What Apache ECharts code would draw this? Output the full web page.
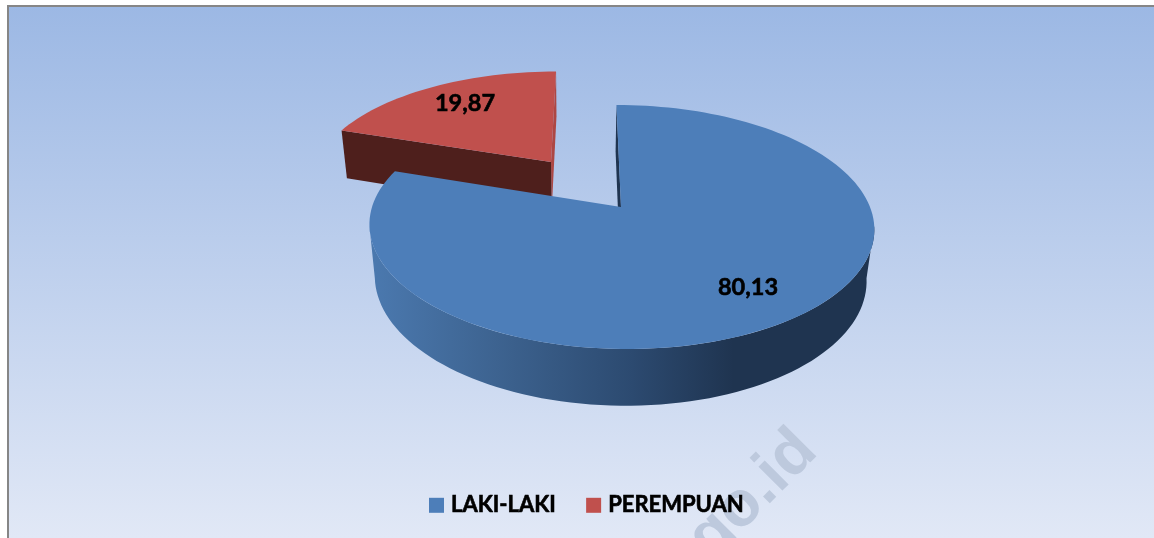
<!DOCTYPE html>
<html>
<head>
<meta charset="utf-8">
<title>Pie</title>
<script src="https://cdn.jsdelivr.net/npm/echarts@6/dist/echarts.min.js"></script>
<style>
html,body{margin:0;padding:0;background:#fff}
#chart{width:1154px;height:538px}
</style>
</head>
<body>
<div id="chart"></div>
<script>
var categories = ['LAKI-LAKI', 'PEREMPUAN'];
var values = [80.13, 19.87];
var colors = ['#4d7eb9', '#c0504d'];
var wallColors = ['#1f3450', '#4e1f1c'];
var FONT = 'Lato, "Open Sans", sans-serif';

// 3d pie seen from above, u/v on the unit disc, z = 1 is the bottom face
function proj(u, v, z) {
    var w = 1 + 0.1639 * v + 0.026 * z;
    return [
        (621 + 96.5 * v + 249 * u + 15 * z) / w,
        (207 - 84.8 * v + 58 * z) / w
    ];
}

function arc(a0, a1, ox, oy, z) {
    var pts = [];
    var n = Math.ceil((a1 - a0) / 2);
    for (var i = 0; i <= n; i++) {
        var a = (a0 + (a1 - a0) * i / n) * Math.PI / 180;
        pts.push(proj(ox + Math.sin(a), oy + Math.cos(a), z));
    }
    return pts;
}

function poly(points, fill) {
    return {type: 'polygon', shape: {points: points}, style: {fill: fill}, silent: true};
}

function sliceAngles(index) {
    var total = values[0] + values[1];
    var before = 0;
    for (var i = 0; i < index; i++) before += values[i];
    return [before / total * 360, (before + values[index]) / total * 360];
}

function radial(a, ox, oy) {
    var r = a * Math.PI / 180;
    var eu = ox + Math.sin(r), ev = oy + Math.cos(r);
    return [proj(ox, oy, 0), proj(eu, ev, 0), proj(eu, ev, 1), proj(ox, oy, 1)];
}

function valueLabel(value, x, y) {
    return {type: 'text', style: {text: String(value).replace('.', ','), x: x, y: y,
        align: 'center', verticalAlign: 'middle', fill: '#000', stroke: '#000', lineWidth: 0.6,
        font: 'bold 23.5px ' + FONT}};
}

function renderBlue(params, api) {
    var ang = sliceAngles(0);
    // only the front of the rim, between the two side extremes
    var wall = arc(99, 261, 0, 0, 0).concat(arc(99, 261, 0, 0, 1).reverse());
    var top = [proj(0, 0, 0)].concat(arc(ang[0], ang[1], 0, 0, 0));
    var grad = new echarts.graphic.LinearGradient(370, 0, 875, 0, [
        {offset: 0, color: '#4b79af'},
        {offset: 0.25, color: '#3d6390'},
        {offset: 0.52, color: '#2c4a70'},
        {offset: 0.72, color: '#1f3450'},
        {offset: 1, color: '#1f3450'}
    ], true);
    return {type: 'group', children: [
        poly(radial(ang[0], 0, 0), wallColors[0]),
        poly(wall, grad),
        poly(top, colors[0]),
        valueLabel(api.value(0), 748, 287)
    ]};
}

function renderRed(params, api) {
    var ang = sliceAngles(1);
    var mid = (ang[0] + ang[1]) / 2 * Math.PI / 180;
    var ox = 0.498 * Math.sin(mid), oy = 0.498 * Math.cos(mid);
    var top = [proj(ox, oy, 0)].concat(arc(ang[0], ang[1], ox, oy, 0));
    return {type: 'group', children: [
        poly(radial(ang[1], ox, oy), '#ad4744'),
        poly(radial(ang[0], ox, oy), wallColors[1]),
        poly(top, colors[1]),
        valueLabel(api.value(0), 465, 103)
    ]};
}

var chart = echarts.init(document.getElementById('chart'));
chart.setOption({
    animation: false,
    legend: {
        data: categories,
        left: 429,
        top: 494,
        padding: 0,
        icon: 'rect',
        itemWidth: 15,
        itemHeight: 15,
        itemGap: 30,
        selectedMode: false,
        textStyle: {color: '#000', fontWeight: 'bold', fontSize: 22, fontFamily: FONT,
            textBorderColor: '#000', textBorderWidth: 0.6, padding: [0, 0, 0, 2]}
    },
    graphic: [
        {type: 'rect', z: -10, shape: {x: 8, y: 6, width: 1146, height: 532},
            style: {fill: new echarts.graphic.LinearGradient(0, 0, 0, 1, [
                {offset: 0, color: '#9cb8e4'},
                {offset: 1, color: '#e1e8f6'}
            ])}},
        {type: 'rect', z: -9, shape: {x: 7, y: 5, width: 1147, height: 2}, style: {fill: '#868686'}},
        {type: 'rect', z: -9, shape: {x: 7, y: 5, width: 2, height: 533}, style: {fill: '#868686'}},
        {type: 'text', z: -5, x: 807, y: 441, rotation: Math.PI / 4, silent: true,
            style: {text: 'go.id', align: 'right', verticalAlign: 'middle', fill: '#bdc9dd',
                font: 'bold 64px "Liberation Sans", sans-serif'}}
    ],
    series: [
        {name: categories[0], type: 'custom', coordinateSystem: 'none', z: 3,
            itemStyle: {color: colors[0]}, data: [[values[0]]], renderItem: renderBlue},
        {name: categories[1], type: 'custom', coordinateSystem: 'none', z: 2,
            itemStyle: {color: colors[1]}, data: [[values[1]]], renderItem: renderRed}
    ]
});
</script>
</body>
</html>
